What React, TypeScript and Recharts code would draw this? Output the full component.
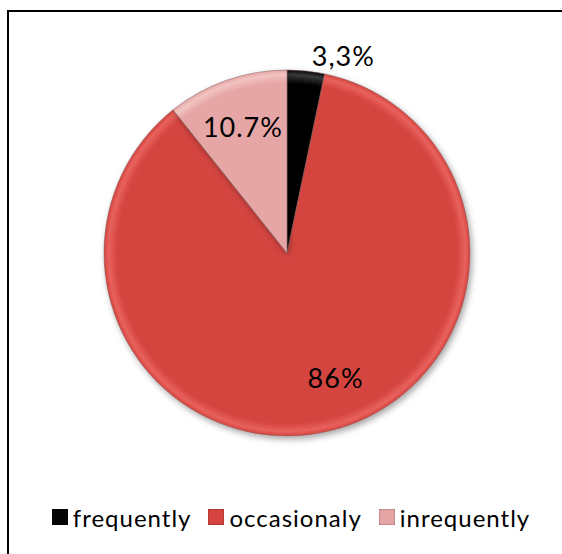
import React from "react";
import { PieChart, Pie, Cell, Legend } from "recharts";

const categories = ["frequently", "occasionaly", "inrequently"];
const values = [3.3, 86, 10.7];
const valueLabels = ["3,3%", "86%", "10.7%"];
const colors = ["#050505", "#d5443f", "#e6a6a5"];
const rimColors = ["#3a3a3a", "#e8625d", "#f2c4c3"];

const data = categories.map((name, i) => ({ name, value: values[i], label: valueLabels[i] }));

const RAD = Math.PI / 180;
const FONT = "Lato, 'Open Sans', sans-serif";

const renderLabel = (props: any) => {
  const { cx, cy, midAngle, outerRadius, index } = props;
  const inside = values[index] > 5;
  const r = inside ? outerRadius * 0.73 : outerRadius * 1.12;
  const ang = inside ? midAngle + (index === 1 ? 8 : 0) : midAngle - 10;
  const x = cx + r * Math.cos(-ang * RAD);
  const y = cy + r * Math.sin(-ang * RAD);
  return (
    <text
      x={x}
      y={y}
      fill="#000"
      textAnchor="middle"
      dominantBaseline="central"
      fontSize={27}
      letterSpacing={1}
      fontFamily={FONT}
    >
      {valueLabels[index]}
    </text>
  );
};

const renderLegend = () => {
  return (
    <div
      style={{
        display: "flex",
        justifyContent: "center",
        alignItems: "center",
        fontFamily: FONT,
        fontSize: 24,
        letterSpacing: 1,
        color: "#000",
        height: 30,
        paddingLeft: 20,
        boxSizing: "border-box",
      }}
    >
      {categories.map((c, i) => (
        <div key={c} style={{ display: "flex", alignItems: "center", marginRight: i < categories.length - 1 ? 17 : 0 }}>
          <span
            style={{
              display: "inline-block",
              width: 16,
              height: 16,
              background: colors[i],
              marginRight: 5,
              boxShadow: "inset 0 0 2px rgba(0,0,0,0.5)",
            }}
          />
          <span>{c}</span>
        </div>
      ))}
    </div>
  );
};

export default function App() {
  return (
    <div style={{ position: "absolute", left: 0, top: 0, width: 562, height: 554, overflow: "hidden", background: "#fff" }}>
      <div
        style={{
          position: "absolute",
          left: 7,
          top: 10,
          width: 700,
          height: 700,
          borderLeft: "2px solid #000",
          borderTop: "2px solid #000",
          boxSizing: "border-box",
        }}
      />
      <div style={{ position: "absolute", left: 0, top: 0 }}>
        <PieChart width={562} height={554} margin={{ top: 0, right: 0, bottom: 0, left: 0 }}>
          <defs>
            <filter id="shadow" x="-20%" y="-20%" width="140%" height="140%">
              <feDropShadow dx="2" dy="3" stdDeviation="3" floodColor="#000" floodOpacity="0.35" />
            </filter>
            {colors.map((c, i) => (
              <radialGradient key={i} id={`bevel${i}`} cx={287} cy={253} r={183} gradientUnits="userSpaceOnUse">
                <stop offset="0" stopColor={c} />
                <stop offset="0.93" stopColor={c} />
                <stop offset="0.975" stopColor={rimColors[i]} />
                <stop offset="1" stopColor={c} />
              </radialGradient>
            ))}
          </defs>
          <Pie
            data={data}
            dataKey="value"
            nameKey="name"
            cx={287}
            cy={253}
            outerRadius={183}
            startAngle={90}
            endAngle={-270}
            stroke="#7a5a5a"
            strokeWidth={0.5}
            label={renderLabel}
            labelLine={false}
            isAnimationActive={false}
            style={{ filter: "url(#shadow)" }}
          >
            {data.map((d, i) => (
              <Cell key={d.name} fill={`url(#bevel${i})`} />
            ))}
          </Pie>
          <Legend
            verticalAlign="bottom"
            content={renderLegend}
            wrapperStyle={{ position: "absolute", left: 0, top: 502, width: 562, height: 30 }}
          />
        </PieChart>
      </div>
    </div>
  );
}
